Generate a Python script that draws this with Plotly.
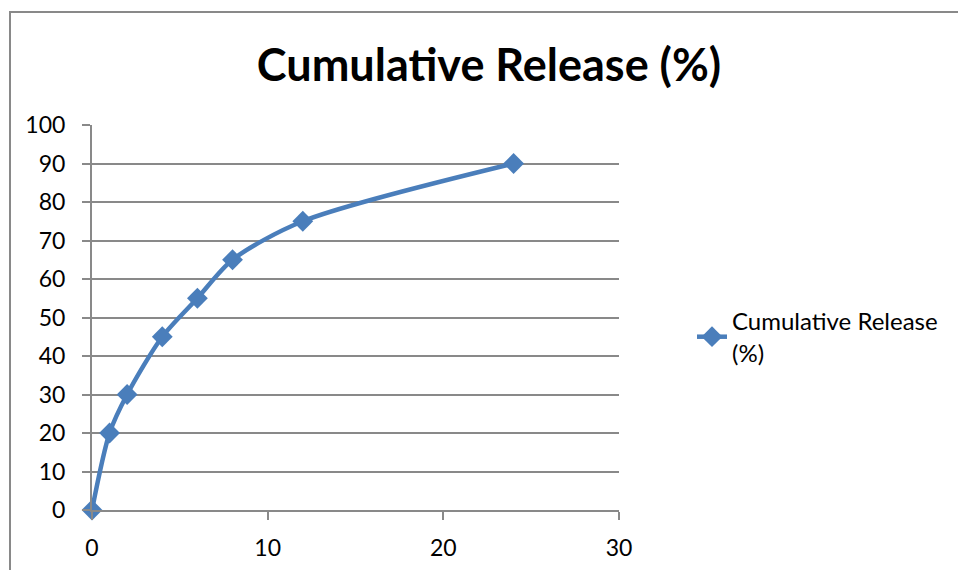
import plotly.graph_objects as go

# Release time points (hours) and cumulative release (%)
time_h = [0, 1, 2, 4, 6, 8, 12, 24]
cumulative_release = [0, 20, 30, 45, 55, 65, 75, 90]
series_name = "Cumulative Release<br>(%)"
chart_title = "<b>Cumulative Release (%)</b>"
x_ticks = [0, 10, 20, 30]
y_ticks = list(range(0, 101, 10))

LINE_BLUE = "#4A7EBB"
GRID_GRAY = "#898989"
FONT = "Lato"

fig = go.Figure()
fig.add_trace(go.Scatter(
    x=time_h,
    y=cumulative_release,
    name=series_name,
    mode="lines+markers",
    line=dict(color=LINE_BLUE, width=4.5, shape="spline", smoothing=0.8),
    marker=dict(symbol="diamond", size=16, color=LINE_BLUE),
    cliponaxis=False,
))

L, R, T, B = 92, 339, 125, 60
W, H = 958, 570
pw, ph = W - L - R, H - T - B

fig.update_layout(
    width=W, height=H,
    margin=dict(l=L, r=R, t=T, b=B, autoexpand=False),
    paper_bgcolor="white",
    plot_bgcolor="white",
    font=dict(family=FONT, size=23, color="black"),
    title=dict(
        text=chart_title,
        font=dict(family=FONT, size=45, color="black"),
        xref="paper", x=(489 - L) / pw, xanchor="center",
        yref="container", y=1 - 65 / H, yanchor="middle",
    ),
    showlegend=True,
    legend=dict(
        x=(692 - L) / pw, xanchor="left",
        y=(510 - 337) / ph, yanchor="middle",
        font=dict(family=FONT, size=24, color="black"),
        bgcolor="rgba(0,0,0,0)",
        itemwidth=30,
    ),
    xaxis=dict(
        range=[0, 30], tickvals=x_ticks,
        showgrid=False, zeroline=False, automargin=False,
        showline=True, linecolor=GRID_GRAY, linewidth=2,
        ticks="outside", ticklen=8, tickcolor=GRID_GRAY, tickwidth=2,
        ticklabelstandoff=8,
    ),
    yaxis=dict(
        range=[0, 100], tickvals=y_ticks,
        showgrid=True, gridcolor=GRID_GRAY, gridwidth=2,
        zeroline=False, automargin=False,
        showline=True, linecolor=GRID_GRAY, linewidth=2,
        ticks="outside", ticklen=8, tickcolor=GRID_GRAY, tickwidth=2,
        ticklabelstandoff=12,
    ),
    shapes=[dict(
        type="rect", xref="paper", yref="paper",
        x0=(10 - L) / pw, x1=(W + 20 - L) / pw,
        y0=(510 - (H + 20)) / ph, y1=(510 - 12) / ph,
        line=dict(color=GRID_GRAY, width=2), fillcolor="rgba(0,0,0,0)",
        layer="below",
    )],
)

fig.write_html("out.html")
